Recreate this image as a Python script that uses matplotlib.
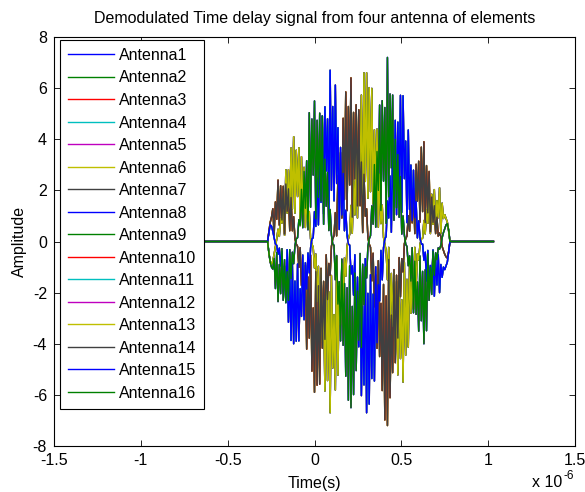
import numpy as np
import matplotlib
matplotlib.use("Agg")
import matplotlib.pyplot as plt

plt.rcParams['font.family'] = ['Liberation Sans', 'DejaVu Sans']
plt.rcParams['axes.unicode_minus'] = False

# time axis in microseconds: 7.5 ns sampling over the echo window, zero padding either side
t_window = np.linspace(-0.27, 0.78, 141)
t_us = np.concatenate(([-1.03], t_window, [1.03]))

# demodulated outputs, one per array column (antennas in a column share the delay)
col1 = [0, -0.45, -0.8, -0.9, -0.75, -0.5, -0.2, 0.1, 0.48, 0.2,
        0.9, 0.72, 1.88, 0.24, 2.81, 1.11, 2.81, 0.95, 3.66, 1.27,
        4.1, 1.11, 3.57, 1.76, 3.67, 0.62, 3.32, 1.07, 2.9, 0.55,
        1.74, 0.8, 1.17, 0.1, -0.1, -0.23, -1.04, -0.49, -2.36, -0.97,
        -3.65, -1.1, -3.93, -2.15, -5.85, -0.92, -5.44, -1.97, -6.7, -1.33,
        -4.95, -2.86, -5.81, -0.57, -5.23, -1.63, -3.27, -0.86, -2.52, -0.64,
        -1.36, -0.18, 0.1, 0.28, 1.41, 0.32, 2.38, 1.04, 3.68, 0.92,
        3.86, 2.52, 5.73, 0.63, 6.6, 2.35, 6.6, 1.69, 6.02, 1.95,
        5.99, 1.47, 4.37, 1.97, 4.4, 0.56, 2.64, 0.7, 1.42, 0.16,
        -0.1, -0.36, -1.5, -0.23, -3.01, -1.25, -3.32, -1.14, -4.49, -1.57,
        -5.22, -1.4, -4.58, -2.28, -5.5, -0.82, -4.45, -1.48, -4.13, -0.83,
        -2.81, -1.47, -2.65, -0.23, -1.85, -0.48, -0.72, -0.11, 0.1, 0.13,
        0.82, 0.3, 1.24, 0.71, 1.98, 0.31, 1.85, 0.67, 2.03, 0.44,
        1.6, 0.93, 2.1, 0.3, 1.5, 0.9, 1.05, 0.9, 0.75, 0.4,
        0]
col2 = [0, 0.4, 0.75, 0.95, 1.28, 0.25, 1.55, 0.87, 2.4, 0.64,
        2.18, 0.84, 2.16, 0.29, 2.25, 1.18, 2.06, 0.42, 1.72, 0.42,
        0.97, 0.1, -0.1, -0.19, -1.01, -0.24, -1.72, -1.08, -2.9, -0.93,
        -4.21, -1.39, -3.78, -0.53, -5.07, -2.6, -5.9, -1.18, -5.62, -1.73,
        -5.58, -1.05, -4.17, -1.56, -3.83, -0.52, -2.27, -0.86, -1.32, -0.19,
        0.1, 0.23, 1.13, 0.22, 2.59, 1.57, 3.48, 0.92, 4.82, 1.64,
        5.85, 1.21, 5.28, 2.21, 6.4, 0.95, 5.05, 2.45, 5.35, 1.39,
        5.15, 1.4, 3.11, 0.35, 2.63, 0.99, 1.28, 0.15, -0.1, -0.23,
        -1.54, -0.46, -2.56, -1.3, -4.18, -0.75, -4.5, -2.42, -5.83, -1.68,
        -6.98, -2.13, -7.2, -0.7, -6.11, -2.88, -5.13, -1.1, -4.74, -1.32,
        -3.78, -0.63, -2.16, -0.67, -1.19, -0.09, 0.1, 0.22, 1.01, 0.4,
        2.06, 0.73, 2.09, 0.31, 3.02, 1.58, 3.14, 0.76, 3.69, 1.17,
        3.9, 0.74, 2.97, 1.12, 2.74, 0.38, 1.74, 0.75, 1.4, 0.31,
        0.95, 0.21, 0.33, 0.2, -0.2, -0.35, -0.5, -0.6, -0.65, -0.4,
        0]
col3 = [0, 0.35, 0.65, 0.6, 0.4, 0.15, -0.1, -0.15, -0.5, -0.26,
        -0.96, -0.4, -1.98, -0.96, -2.39, -0.32, -3.16, -1.14, -3.87, -0.85,
        -4.0, -1.55, -3.9, -0.88, -3.89, -1.85, -2.93, -0.53, -3.06, -0.83,
        -1.86, -0.45, -1.23, -0.25, 0.1, 0.15, 1.17, 0.59, 2.49, 0.65,
        3.26, 1.53, 4.91, 1.08, 5.27, 2.76, 4.8, 0.98, 6.7, 2.0,
        5.28, 1.59, 6.12, 2.27, 4.45, 0.47, 3.68, 1.04, 2.66, 0.42,
        1.22, 0.25, -0.1, -0.14, -1.27, -0.95, -2.1, -0.52, -3.89, -1.39,
        -4.12, -1.4, -6.03, -2.53, -5.61, -0.67, -6.7, -2.03, -6.36, -1.3,
        -5.36, -2.06, -5.46, -0.99, -3.96, -1.69, -2.33, -0.35, -1.5, -0.24,
        0.1, 0.2, 1.58, 0.92, 2.56, 0.36, 3.74, 1.37, 4.74, 1.05,
        4.67, 1.96, 5.72, 1.14, 5.7, 2.46, 3.93, 0.74, 4.36, 1.25,
        2.99, 0.82, 2.79, 0.93, 1.57, 0.14, 0.81, 0.14, -0.1, -0.1,
        -0.73, -0.42, -1.55, -0.35, -1.78, -0.94, -1.64, -0.33, -2.14, -0.66,
        -1.7, -0.52, -2.0, -0.9, -1.4, -1.0, -1.1, -0.95, -0.8, -0.4,
        0]
col4 = [0, -0.45, -0.8, -1.0, -1.08, -0.66, -1.84, -0.43, -2.35, -0.9,
        -2.04, -0.28, -2.3, -0.71, -2.39, -1.18, -2.3, -0.32, -1.45, -0.42,
        -0.87, -0.15, 0.1, 0.15, 0.85, 0.64, 2.04, 0.54, 2.74, 1.3,
        3.16, 0.46, 5.04, 1.34, 4.79, 2.6, 5.5, 0.89, 4.74, 1.73,
        5.02, 1.58, 4.91, 0.67, 3.22, 1.38, 2.7, 0.43, 1.25, 0.26,
        -0.1, -0.15, -1.5, -0.55, -2.45, -1.57, -3.89, -0.69, -4.06, -1.64,
        -5.27, -1.81, -6.21, -0.95, -6.5, -2.54, -5.99, -1.23, -5.05, -1.94,
        -3.86, -0.47, -4.15, -0.89, -2.48, -0.99, -1.43, -0.2, 0.1, 0.23,
        1.39, 0.68, 3.01, 0.56, 3.52, 2.0, 5.34, 1.21, 5.51, 2.36,
        5.24, 0.71, 7.2, 1.75, 5.77, 2.88, 5.73, 0.83, 3.99, 1.32,
        3.4, 0.95, 2.54, 0.29, 1.0, 0.25, -0.1, -0.2, -0.95, -0.56,
        -1.55, -0.24, -2.79, -0.77, -2.85, -1.58, -3.51, -0.57, -3.1, -1.17,
        -4.0, -1.11, -3.49, -0.48, -2.3, -1.01, -2.07, -0.37, -1.32, -0.44,
        -0.71, -0.25, -0.3, -0.15, 0.15, 0.35, 0.5, 0.65, 0.7, 0.45,
        0]
columns = [col1, col2, col3, col4]

labels = ["Antenna%d" % k for k in range(1, 17)]
# classic MATLAB colour order
colors = [(0, 0, 1), (0, 0.5, 0), (1, 0, 0), (0, 0.75, 0.75),
          (0.75, 0, 0.75), (0.75, 0.75, 0), (0.25, 0.25, 0.25)]

fig = plt.figure(figsize=(5.85, 4.92), dpi=100)
ax = fig.add_axes([54 / 585, 46 / 492, 521 / 585, 409 / 492])

for k in range(16):
    sig = [0] + columns[k % 4] + [0]
    ax.plot(t_us, sig, color=colors[k % 7], lw=1.05, label=labels[k])

ax.set_xlim(-1.5, 1.5)
ax.set_ylim(-8, 8)
ax.set_xticks([-1.5, -1, -0.5, 0, 0.5, 1, 1.5])
ax.set_xticklabels(["-1.5", "-1", "-0.5", "0", "0.5", "1", "1.5"])
ax.set_yticks(range(-8, 9, 2))
ax.set_yticklabels([str(v) for v in range(-8, 9, 2)])
ax.tick_params(direction="in", top=True, right=True, length=4, width=0.6,
               labelsize=11.5, pad=5)
for s in ax.spines.values():
    s.set_linewidth(0.8)

ax.set_title("Demodulated Time delay signal from four antenna of elements",
             fontsize=11.5, pad=10)
ax.set_xlabel("Time(s)", fontsize=11.5, labelpad=6)
ax.set_ylabel("Amplitude", fontsize=11.5, labelpad=4)
fig.text(532 / 585, 5 / 492, "x 10", fontsize=11.5, va="baseline")
fig.text(563 / 585, 13 / 492, "-6", fontsize=8.5, va="baseline")

leg = ax.legend(loc="upper left", bbox_to_anchor=(6 / 521, 1 - 3 / 409),
                borderaxespad=0, fontsize=11.5, handlelength=2.9,
                handletextpad=0.3, labelspacing=0.47, borderpad=0.5,
                fancybox=False, framealpha=1, edgecolor="black")
leg.get_frame().set_linewidth(0.8)
for h in leg.get_lines():
    h.set_linewidth(1.0)

fig.savefig("out.png", dpi=100)
